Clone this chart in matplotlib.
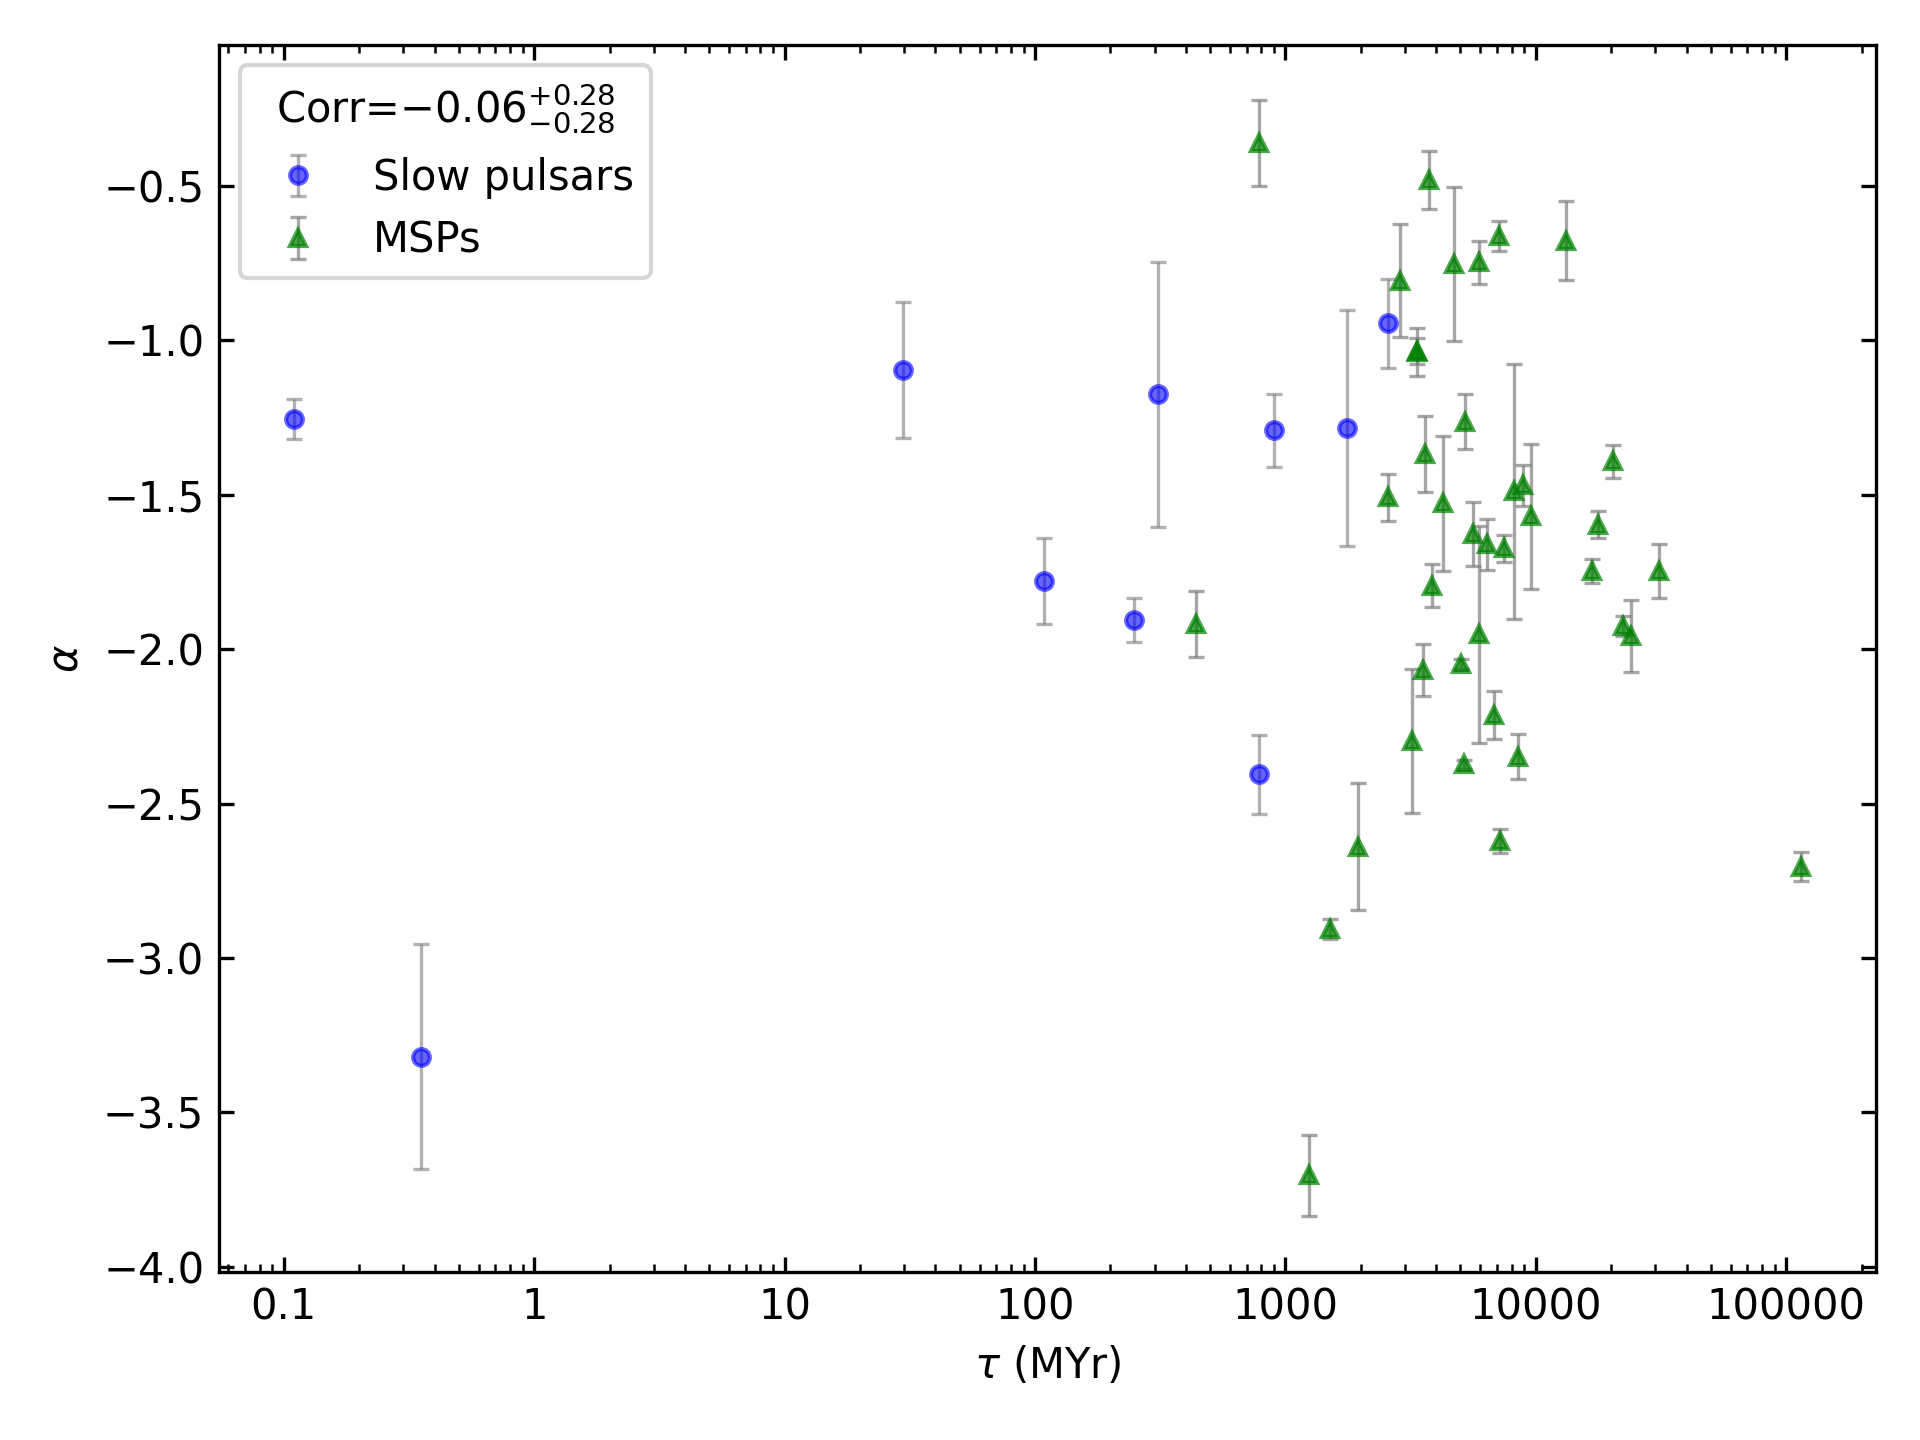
import numpy as np
import matplotlib
matplotlib.use('Agg')
import matplotlib.pyplot as plt
from matplotlib.ticker import FuncFormatter

# slow pulsars
tau_slow = [0.110, 0.352, 29.6, 109, 248, 310, 785, 902, 1765, 2570]
alpha_slow = [-1.254, -3.32, -1.096, -1.78, -1.906, -1.175, -2.405, -1.291, -1.283, -0.944]
err_slow = [0.065, 0.365, 0.22, 0.14, 0.07, 0.43, 0.128, 0.118, 0.382, 0.144]

# millisecond pulsars
tau_msp = [783, 3737, 2864, 4700, 5915, 7113, 13190, 3350, 3350, 5200,
           3607, 2564, 4248, 8166, 8863, 9598, 20280, 17770, 5612, 6368,
           7448, 5915, 3838, 16710, 22350, 23880, 3527, 5003, 3201, 6792,
           5151, 8476, 7194, 1942, 440, 1510, 1245, 114000, 30900]
alpha_msp = [-0.362, -0.482, -0.807, -0.753, -0.747, -0.661, -0.677, -1.038, -1.035, -1.263,
             -1.368, -1.508, -1.528, -1.489, -1.470, -1.570, -1.392, -1.597, -1.627, -1.661,
             -1.674, -1.952, -1.794, -1.747, -1.925, -1.957, -2.068, -2.048, -2.298, -2.213,
             -2.373, -2.349, -2.621, -2.640, -1.918, -2.906, -3.704, -2.704, -1.747]
err_msp = [0.139, 0.094, 0.183, 0.248, 0.069, 0.049, 0.129, 0.079, 0.043, 0.090,
           0.123, 0.076, 0.219, 0.413, 0.065, 0.235, 0.054, 0.044, 0.104, 0.082,
           0.044, 0.351, 0.071, 0.039, 0.031, 0.116, 0.085, 0.017, 0.233, 0.078,
           0.015, 0.073, 0.038, 0.205, 0.107, 0.033, 0.131, 0.047, 0.088]

corr_title = r'Corr=$-0.06^{+0.28}_{-0.28}$'

fig, ax = plt.subplots(figsize=(6.4, 4.8), dpi=300)

ax.errorbar(tau_slow, alpha_slow, yerr=err_slow, fmt='o', color='b', alpha=0.6,
            ms=4, ecolor='gray', elinewidth=0.8, capsize=2, capthick=0.8,
            label='Slow pulsars')
ax.errorbar(tau_msp, alpha_msp, yerr=err_msp, fmt='^', color='g', alpha=0.7,
            ms=4, ecolor='gray', elinewidth=0.8, capsize=2, capthick=0.8,
            label='MSPs')

ax.set_xscale('log')
ax.xaxis.set_major_formatter(FuncFormatter(lambda v, p: '{:g}'.format(v)))
ax.tick_params(which='both', direction='in', top=True, right=True)
ax.set_xlabel(r'$\tau$ (MYr)')
ax.set_ylabel(r'$\alpha$')
ax.legend(title=corr_title, loc='upper left')

plt.subplots_adjust(left=0.114, right=0.977, top=0.969, bottom=0.117)
plt.savefig('out.png', dpi=300)
